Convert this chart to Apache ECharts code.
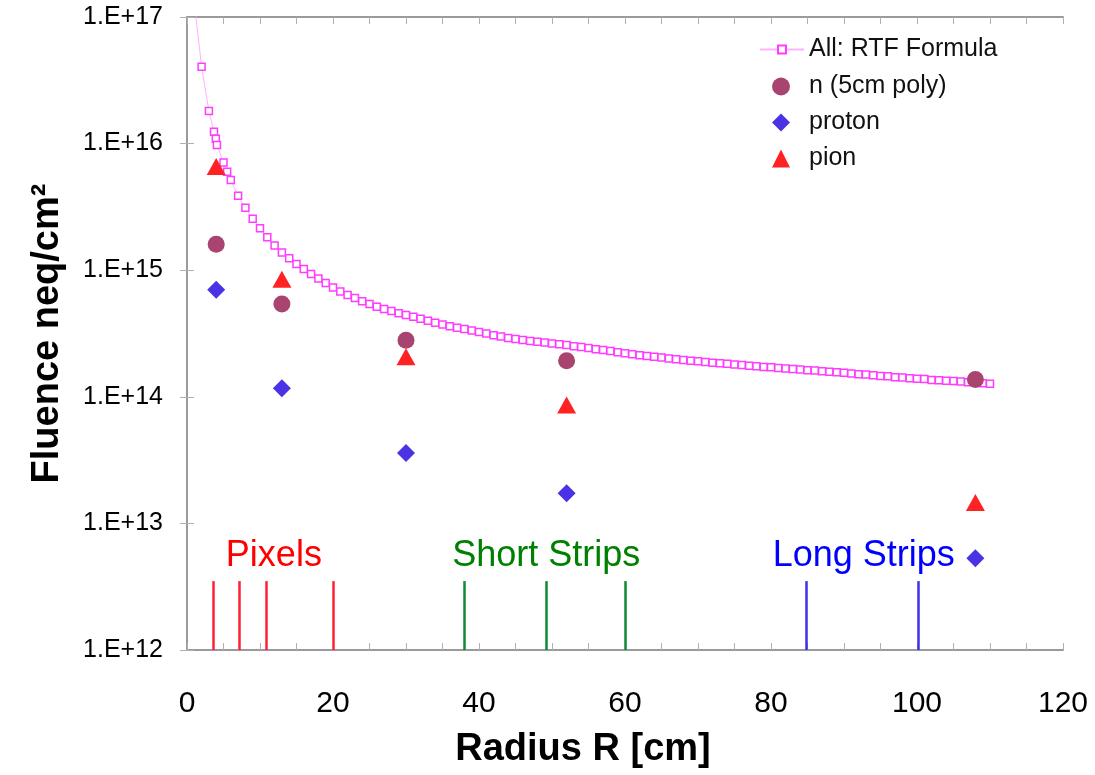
<!DOCTYPE html>
<html>
<head>
<meta charset="utf-8">
<script src="https://cdn.jsdelivr.net/npm/echarts@6/dist/echarts.min.js"></script>
<style>
  html, body { margin: 0; padding: 0; background: #fff; }
  #chart { width: 1095px; height: 775px; }
</style>
</head>
<body>
<div id="chart"></div>
<script>
// RTF formula curve (radius in cm, fluence in neq/cm2)
const rtfRadius = [1, 2, 3, 3.7, 3.95, 4.1, 5, 5.5, 6, 7, 8, 9, 10, 11, 12, 13, 14, 15, 16,
  17, 18, 19, 20, 21, 22, 23, 24, 25, 26, 27, 28, 29, 30, 31, 32, 33, 34, 35, 36, 37, 38, 39, 40,
  41, 42, 43, 44, 45, 46, 47, 48, 49, 50, 51, 52, 53, 54, 55, 56, 57, 58, 59, 60,
  61, 62, 63, 64, 65, 66, 67, 68, 69, 70, 71, 72, 73, 74, 75, 76, 77, 78, 79, 80,
  81, 82, 83, 84, 85, 86, 87, 88, 89, 90, 91, 92, 93, 94, 95, 96, 97, 98, 99, 100,
  101, 102, 103, 104, 105, 106, 107, 108, 109, 110];
const rtfFluence = [1.3e17, 4.05e16, 1.81e16, 1.24e16, 1.09e16, 9.75e15, 7.1e15, 6.0e15, 5.15e15,
  3.87e15, 3.11e15, 2.55e15, 2.14e15, 1.82e15, 1.57e15, 1.38e15, 1.24e15, 1.12e15, 1.02e15,
  9.33e14, 8.59e14, 7.91e14, 7.31e14, 6.79e14, 6.38e14, 6.03e14, 5.69e14, 5.41e14, 5.15e14,
  4.94e14, 4.76e14, 4.58e14, 4.43e14, 4.28e14, 4.13e14, 3.99e14, 3.85e14, 3.72e14, 3.61e14,
  3.51e14, 3.43e14, 3.34e14, 3.25e14, 3.16e14, 3.07e14, 2.99e14, 2.92e14, 2.86e14, 2.81e14,
  2.76e14, 2.72e14, 2.68e14, 2.64e14, 2.60e14, 2.56e14, 2.51e14, 2.47e14, 2.43e14, 2.38e14,
  2.34e14, 2.30e14, 2.25e14, 2.21e14, 2.17e14, 2.13e14, 2.10e14, 2.07e14, 2.04e14, 2.01e14,
  1.98e14, 1.95e14, 1.93e14, 1.91e14, 1.88e14, 1.86e14, 1.84e14, 1.82e14, 1.80e14, 1.78e14,
  1.76e14, 1.74e14, 1.72e14, 1.71e14, 1.69e14, 1.67e14, 1.66e14, 1.64e14, 1.62e14, 1.61e14,
  1.59e14, 1.58e14, 1.56e14, 1.55e14, 1.53e14, 1.51e14, 1.50e14, 1.48e14, 1.46e14, 1.45e14,
  1.43e14, 1.42e14, 1.40e14, 1.39e14, 1.38e14, 1.36e14, 1.35e14, 1.34e14, 1.33e14, 1.32e14,
  1.30e14, 1.29e14, 1.28e14, 1.27e14];

// simulated points
const simRadius = [4, 13, 30, 52, 108];
const neutron = [1.6e15, 5.4e14, 2.8e14, 1.93e14, 1.37e14];
const proton = [7.0e14, 1.17e14, 3.6e13, 1.73e13, 5.3e12];
const pion = [6.6e15, 8.5e14, 2.07e14, 8.6e13, 1.46e13];

// detector layer radii
const pixelR = [3.6, 7.2, 10.9, 20];
const shortStripR = [38, 49.2, 60];
const longStripR = [84.8, 100.2];
const layerBottom = 1e12;
const layerTop = 3.5e12;

// region labels
const regionNames = ["Pixels", "Short Strips", "Long Strips"];
const regionX = [11.9, 49.2, 92.7];
const regionY = [5.5e12, 5.5e12, 5.5e12];
const regionColors = ["#ff0000", "#008000", "#0000ff"];
const layerColors = ["#ff2036", "#0f8a35", "#3f30ee"];

const FONT = "'Liberation Sans', Arial, sans-serif";

const zip = (xs, ys) => xs.map((x, i) => [x, ys[i]]);

const layerLines = [];
[pixelR, shortStripR, longStripR].forEach((group, g) => {
  group.forEach(r => {
    layerLines.push([
      { coord: [r, layerBottom], lineStyle: { color: layerColors[g], width: 2.5, type: "solid", opacity: 1 } },
      { coord: [r, layerTop] }
    ]);
  });
});

const chart = echarts.init(document.getElementById("chart"));

const axisLine = { show: true, lineStyle: { color: "#9a9a9a", width: 2 } };
const tick = { show: true, inside: true, length: 7, lineStyle: { color: "#b0b0b0", width: 1 } };
const minor = { show: true, splitNumber: 4, length: 7, lineStyle: { color: "#b0b0b0", width: 1 } };
const legendText = { fontSize: 25, color: "#111", fontFamily: FONT, lineHeight: 24 };

const options = {
  animation: false,
  backgroundColor: "#fff",
  textStyle: { fontFamily: FONT },
  grid: { left: 187, right: 32, top: 17, bottom: 125, containLabel: false },
  legend: [
    {
      data: ["All: RTF Formula"],
      orient: "vertical",
      left: 754,
      top: 32,
      itemWidth: 44,
      itemHeight: 10,
      itemGap: 12,
      textStyle: legendText
    },
    {
      data: ["n (5cm poly)", "proton", "pion"],
      orient: "vertical",
      left: 767,
      top: 69,
      itemWidth: 18,
      itemHeight: 18,
      itemGap: 11,
      textStyle: Object.assign({}, legendText, { padding: [0, 0, 0, 14] })
    }
  ],
  xAxis: [
    {
      type: "value",
      min: 0,
      max: 120,
      interval: 20,
      position: "bottom",
      name: "Radius R [cm]",
      nameLocation: "middle",
      nameGap: 81,
      nameTextStyle: { fontSize: 38, fontWeight: "bold", color: "#000", fontFamily: FONT, padding: [0, 84, 0, 0] },
      axisLine,
      axisTick: tick,
      minorTick: minor,
      splitLine: { show: false },
      axisLabel: { fontSize: 30, color: "#000", margin: 39, fontFamily: FONT }
    },
    {
      type: "value",
      min: 0,
      max: 120,
      interval: 20,
      position: "top",
      axisLine,
      axisTick: tick,
      minorTick: minor,
      splitLine: { show: false },
      axisLabel: { show: false }
    }
  ],
  yAxis: [
    {
      type: "log",
      logBase: 10,
      min: 1e12,
      max: 1e17,
      position: "left",
      name: "Fluence neq/cm\u00B2",
      nameLocation: "middle",
      nameGap: 120,
      nameTextStyle: { fontSize: 38, fontWeight: "bold", color: "#000", fontFamily: FONT },
      axisLine,
      axisTick: tick,
      splitLine: { show: false },
      axisLabel: {
        fontSize: 25,
        color: "#000",
        margin: 24,
        fontFamily: FONT,
        formatter: v => "1.E+" + Math.round(Math.log10(v))
      }
    },
    {
      type: "log",
      logBase: 10,
      min: 1e12,
      max: 1e17,
      position: "right",
      axisLine,
      axisTick: tick,
      splitLine: { show: false },
      axisLabel: { show: false }
    }
  ],
  series: [
    {
      name: "All: RTF Formula",
      type: "line",
      data: zip(rtfRadius, rtfFluence),
      symbol: "rect",
      symbolSize: 7,
      showAllSymbol: true,
      clip: true,
      lineStyle: { color: "#ffb0ff", width: 1 },
      itemStyle: { color: "#fff", borderColor: "#ff3cff", borderWidth: 1.5 },
      z: 3
    },
    {
      name: "n (5cm poly)",
      type: "scatter",
      data: zip(simRadius, neutron),
      symbol: "circle",
      symbolSize: 17,
      itemStyle: { color: "#a8446f", opacity: 1 },
      z: 4
    },
    {
      name: "proton",
      type: "scatter",
      data: zip(simRadius, proton),
      symbol: "diamond",
      symbolSize: 18,
      itemStyle: { color: "#4a33e4", opacity: 1 },
      z: 4
    },
    {
      name: "pion",
      type: "scatter",
      data: zip(simRadius, pion),
      symbol: "triangle",
      symbolSize: [19, 17],
      itemStyle: { color: "#ff2222", opacity: 1 },
      z: 5
    },
    {
      name: "layers",
      type: "line",
      data: [],
      silent: true,
      markLine: {
        silent: true,
        symbol: ["none", "none"],
        label: { show: false },
        data: layerLines
      }
    },
    {
      name: "regions",
      type: "scatter",
      silent: true,
      symbolSize: 1,
      itemStyle: { color: "transparent", opacity: 1 },
      data: regionNames.map((n, i) => ({
        value: [regionX[i], regionY[i]],
        label: {
          show: true,
          position: "inside",
          formatter: n,
          fontSize: 36,
          color: regionColors[i],
          opacity: 1,
          fontFamily: FONT
        }
      }))
    }
  ]
};

chart.setOption(options);
</script>
</body>
</html>
